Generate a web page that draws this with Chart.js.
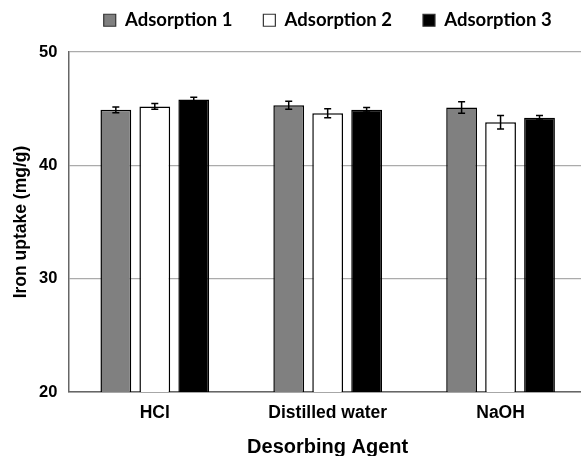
<!DOCTYPE html>
<html>
<head>
<meta charset="utf-8">
<script src="https://cdn.jsdelivr.net/npm/chart.js@4.4.1/dist/chart.umd.min.js"></script>
<style>
  html, body { margin: 0; padding: 0; background: #fff; overflow: hidden; }
  #wrap { width: 590px; height: 456px; }
</style>
</head>
<body>
<div id="wrap"><canvas id="uptakeChart"></canvas></div>
<script>
// Data
const agents = ['HCl', 'Distilled water', 'NaOH'];
const seriesNames = ['Adsorption 1', 'Adsorption 2', 'Adsorption 3'];
const adsorption1 = [44.9, 45.3, 45.1];
const adsorption2 = [45.2, 44.6, 43.8];
const adsorption3 = [45.8, 44.9, 44.2];
const error1 = [0.25, 0.35, 0.5];
const error2 = [0.25, 0.4, 0.6];
const error3 = [0.2, 0.2, 0.2];
const yTicks = [20, 30, 40, 50];

const fills = ['#808080', '#ffffff', '#000000'];
const legendHeight = 72;

// Draw error bars on top of each bar
const errorBarPlugin = {
    id: 'errorBars',
    afterDatasetsDraw(chart) {
        const ctx = chart.ctx;
        const yScale = chart.scales.y;
        ctx.save();
        ctx.strokeStyle = '#000';
        ctx.lineWidth = 1.5;
        chart.data.datasets.forEach((ds, i) => {
            const meta = chart.getDatasetMeta(i);
            meta.data.forEach((bar, j) => {
                const v = ds.data[j];
                const e = ds.errors[j];
                const yTop = yScale.getPixelForValue(v + e);
                const yBot = yScale.getPixelForValue(v - e);
                const x = bar.x;
                ctx.beginPath();
                ctx.moveTo(x, yTop); ctx.lineTo(x, yBot);
                ctx.moveTo(x - 3.5, yTop); ctx.lineTo(x + 3.5, yTop);
                ctx.moveTo(x - 3.5, yBot); ctx.lineTo(x + 3.5, yBot);
                ctx.stroke();
            });
        });
        ctx.restore();
    }
};

// Keep wide gaps between legend items without a tall legend box
const legendFitPlugin = {
    id: 'legendFit',
    beforeLayout(chart) {
        const legend = chart.legend;
        if (legend && !legend._fitPatched) {
            const origFit = legend.fit;
            legend.fit = function () {
                origFit.call(this);
                this.height = legendHeight;
            };
            legend._fitPatched = true;
        }
    }
};

const ctx = document.getElementById('uptakeChart').getContext('2d');
new Chart(ctx, {
    type: 'bar',
    data: {
        labels: agents,
        datasets: [
            { label: seriesNames[0], data: adsorption1, errors: error1, backgroundColor: fills[0] },
            { label: seriesNames[1], data: adsorption2, errors: error2, backgroundColor: fills[1] },
            { label: seriesNames[2], data: adsorption3, errors: error3, backgroundColor: fills[2] }
        ].map(ds => Object.assign(ds, {
            borderColor: '#000',
            borderWidth: 1.5,
            borderSkipped: false,
            categoryPercentage: 0.676,
            barPercentage: 0.79
        }))
    },
    options: {
        responsive: true,
        maintainAspectRatio: false,
        animation: false,
        layout: { padding: { left: 11, right: 3, top: -20, bottom: -3 } },
        plugins: {
            legend: {
                position: 'top',
                fullSize: false,
                labels: {
                    color: '#000',
                    boxWidth: 12,
                    boxHeight: 12,
                    padding: 31,
                    font: { family: 'Lato', weight: 'bold', size: 18.5 },
                    generateLabels(chart) {
                        return chart.data.datasets.map((ds, i) => ({
                            text: ds.label,
                            fillStyle: fills[i],
                            strokeStyle: '#333',
                            lineWidth: 1.2,
                            datasetIndex: i
                        }));
                    }
                }
            },
            tooltip: { enabled: false }
        },
        scales: {
            x: {
                grid: { display: false, drawTicks: false },
                border: { color: '#666', width: 1.5 },
                ticks: {
                    color: '#000',
                    padding: 11,
                    font: { family: 'Liberation Sans', weight: 'bold', size: 17.5 }
                },
                title: {
                    display: true,
                    text: 'Desorbing Agent',
                    color: '#000',
                    padding: { top: 0, bottom: 0 },
                    font: { family: 'Liberation Sans', weight: 'bold', size: 20 }
                }
            },
            y: {
                min: yTicks[0],
                max: yTicks[yTicks.length - 1],
                afterBuildTicks(axis) { axis.ticks = yTicks.map(v => ({ value: v })); },
                grid: { color: '#ababab', lineWidth: 1.2, drawTicks: false },
                border: { color: '#666', width: 1.5 },
                ticks: {
                    color: '#000',
                    padding: 11,
                    font: { family: 'Liberation Sans', weight: 'bold', size: 16.5 }
                },
                title: {
                    display: true,
                    text: 'Iron uptake (mg/g)',
                    color: '#000',
                    padding: { top: 0, bottom: -4 },
                    font: { family: 'Liberation Sans', weight: 'bold', size: 17.5 }
                }
            }
        }
    },
    plugins: [errorBarPlugin, legendFitPlugin]
});
</script>
</body>
</html>
